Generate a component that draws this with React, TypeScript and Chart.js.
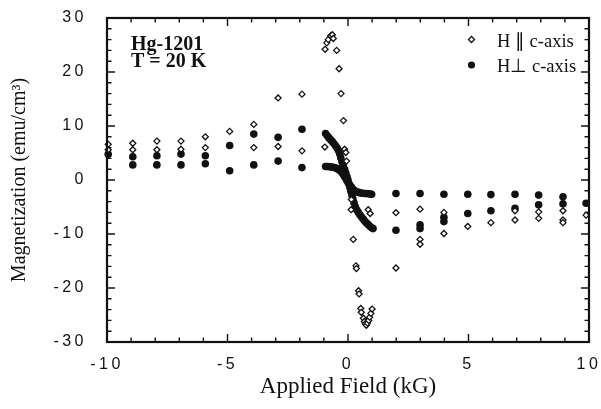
import React, { useEffect, useRef } from 'react';
import { Chart, registerables } from 'chart.js';

Chart.register(...registerables);

// ---- axis ticks ----
const xMajorTicks = [-10, -5, 0, 5, 10];
const yMajorTicks = [-30, -20, -10, 0, 10, 20, 30];
const xMinorTicks = [-9, -8, -7, -6, -4, -3, -2, -1, 1, 2, 3, 4, 6, 7, 8, 9];
const yMinorTicks = [-28, -26, -24, -22, -18, -16, -14, -12, -8, -6, -4, -2, 2, 4, 6, 8, 12, 14, 16, 18, 22, 24, 26, 28];

// ---- texts ----
const xTitle = 'Applied Field (kG)';
const yTitle = 'Magnetization (emu/cm³)';
const seriesNames = ['H ∥ c-axis', 'H⊥ c-axis'];
const sampleNotes = ['Hg-1201', 'T = 20 K'];

// ---- H || c-axis (open diamonds): [field kG, magnetization emu/cm3] ----
const parallelOuter: [number, number][] = [
  [-9.95, 6.6], [-9.95, 5.6],
  [-8.93, 6.8], [-8.93, 5.6],
  [-7.93, 7.2], [-7.93, 5.6],
  [-6.93, 7.2], [-6.93, 5.7],
  [-5.92, 8.0], [-5.92, 6.0],
  [-4.91, 9.0],
  [-3.91, 10.3], [-3.91, 6.0],
  [-2.9, 15.2], [-2.9, 6.2],
  [-1.91, 15.9], [-1.91, 5.4],
  [1.99, -6.05], [1.99, -16.3],
  [2.99, -5.4], [2.99, -11.0], [2.99, -11.9],
  [3.98, -6.0], [3.98, -9.9],
  [4.97, -8.6],
  [5.93, -7.9],
  [6.93, -5.7], [6.93, -7.4],
  [7.91, -5.9], [7.91, -7.1],
  [8.92, -5.7], [8.92, -7.4], [8.92, -7.9],
  [9.88, -6.5],
];
const parallelLoop: [number, number][] = [
  [-0.95, 24.2], [-0.88, 25.4], [-0.82, 26.0], [-0.72, 26.7], [-0.65, 26.9], [-0.61, 26.2],
  [-0.47, 24.0], [-0.37, 20.6], [-0.29, 16.0], [-0.19, 11.0],
  [-0.96, 6.1], [-0.14, 5.7], [-0.09, 5.1], [-0.06, 3.5],
  [0.14, -3.6], [0.13, -5.5], [0.84, -5.5], [0.92, -6.2],
  [0.22, -11.0], [0.33, -15.9], [0.35, -16.4], [0.44, -20.5], [0.46, -21.1],
  [0.53, -23.8], [0.55, -24.5], [0.64, -25.6], [0.68, -26.2], [0.72, -26.6],
  [0.76, -26.9], [0.81, -26.5], [0.86, -26.0], [0.9, -25.4], [0.95, -24.7], [1.0, -23.9],
];

// ---- H ⊥ c-axis (filled circles) ----
const perpOuter: [number, number][] = [
  [-9.95, 4.75],
  [-8.93, 4.3], [-8.93, 2.8],
  [-7.93, 4.5], [-7.93, 2.8],
  [-6.93, 4.8], [-6.93, 2.8],
  [-5.92, 4.5], [-5.92, 3.0],
  [-4.91, 6.4], [-4.91, 1.7],
  [-3.91, 8.5], [-3.91, 2.8],
  [-2.9, 7.9], [-2.9, 3.5],
  [-1.91, 9.4], [-1.91, 2.3],
  [1.99, -2.5], [1.99, -9.3],
  [2.99, -2.5], [2.99, -8.3], [2.99, -9.0],
  [3.98, -2.65], [3.98, -6.9], [3.98, -7.7],
  [4.97, -2.65], [4.97, -6.2],
  [5.93, -2.7], [5.93, -5.7],
  [6.93, -2.65], [6.93, -5.25],
  [7.91, -2.8], [7.91, -4.6],
  [8.92, -3.1], [8.92, -4.4],
  [9.88, -4.3],
];
const perpSteepBranch: [number, number][] = [
  [-0.93, 8.6], [-0.86, 8.2], [-0.79, 7.8], [-0.72, 7.45], [-0.65, 7.1], [-0.58, 6.7],
  [-0.51, 6.3], [-0.45, 5.9], [-0.39, 5.4], [-0.34, 4.8], [-0.3, 4.1], [-0.25, 3.4],
  [-0.2, 2.7], [-0.14, 2.0], [-0.09, 1.3], [-0.04, 0.6], [0.0, 0.0], [0.04, -0.7],
  [0.08, -1.4], [0.12, -2.1], [0.16, -2.8], [0.2, -3.5], [0.25, -4.2], [0.3, -4.9],
  [0.36, -5.5], [0.43, -6.0], [0.5, -6.5], [0.57, -6.9], [0.64, -7.3], [0.71, -7.7],
  [0.78, -8.0], [0.85, -8.3], [0.92, -8.6], [0.99, -8.85], [1.04, -9.0],
];
const perpFlatBranch: [number, number][] = [
  [-0.93, 2.5], [-0.85, 2.5], [-0.77, 2.45], [-0.69, 2.4], [-0.61, 2.35], [-0.53, 2.25],
  [-0.45, 2.1], [-0.37, 1.9], [-0.3, 1.6], [-0.23, 1.25], [-0.17, 0.85], [-0.11, 0.4],
  [-0.05, -0.1], [0.01, -0.5], [0.07, -0.9], [0.14, -1.3], [0.21, -1.7], [0.28, -2.0],
  [0.36, -2.2], [0.44, -2.3], [0.52, -2.4], [0.6, -2.45], [0.68, -2.5], [0.76, -2.5],
  [0.84, -2.55], [0.92, -2.6], [0.98, -2.65],
];

const INK = '#111';
const SERIF = "'Liberation Serif', 'Times New Roman', serif";
const SANS = "'Liberation Sans', Arial, sans-serif";

const toXY = (pts: [number, number][]) => pts.map(([x, y]) => ({ x, y }));

function drawDiamond(ctx: CanvasRenderingContext2D, x: number, y: number, r: number) {
  ctx.beginPath();
  ctx.moveTo(x - r, y);
  ctx.lineTo(x, y - r);
  ctx.lineTo(x + r, y);
  ctx.lineTo(x, y + r);
  ctx.closePath();
  ctx.fillStyle = '#fff';
  ctx.fill();
  ctx.lineWidth = 1.3;
  ctx.strokeStyle = INK;
  ctx.stroke();
}

const framePlugin = {
  id: 'frameAndNotes',
  beforeDraw(chart: any) {
    (chart.ctx as any).letterSpacing = '0px';
  },
  beforeDatasetsDraw(chart: any) {
    (chart.ctx as any).letterSpacing = '3.5px';
  },
  afterDraw(chart: any) {
    const ctx = chart.ctx;
    const a = chart.chartArea;
    const xs = chart.scales.x;
    const ys = chart.scales.y;
    (ctx as any).letterSpacing = '0px';
    ctx.save();
    // frame + inward ticks on all four sides
    ctx.strokeStyle = INK;
    ctx.lineWidth = 1.4;
    ctx.beginPath();
    const vTick = (v: number, len: number) => {
      const px = xs.getPixelForValue(v);
      ctx.moveTo(px, a.bottom);
      ctx.lineTo(px, a.bottom - len);
      ctx.moveTo(px, a.top);
      ctx.lineTo(px, a.top + len);
    };
    const hTick = (v: number, len: number) => {
      const py = ys.getPixelForValue(v);
      ctx.moveTo(a.left, py);
      ctx.lineTo(a.left + len, py);
      ctx.moveTo(a.right, py);
      ctx.lineTo(a.right - len, py);
    };
    xMajorTicks.forEach((v) => vTick(v, 8));
    xMinorTicks.forEach((v) => vTick(v, 4.5));
    yMajorTicks.forEach((v) => hTick(v, 8));
    yMinorTicks.forEach((v) => hTick(v, 4.5));
    ctx.stroke();
    ctx.lineWidth = 2.2;
    ctx.strokeRect(a.left, a.top, a.right - a.left, a.bottom - a.top);

    ctx.fillStyle = INK;
    ctx.textBaseline = 'alphabetic';
    ctx.textAlign = 'left';
    // sample notes
    ctx.font = `bold 20px ${SERIF}`;
    ctx.fillText(sampleNotes[0], a.left + 24, a.top + 32);
    ctx.fillText(sampleNotes[1], a.left + 24, a.top + 49);
    // legend
    const mx = a.right - 117.5;
    drawDiamond(ctx, mx, a.top + 21.5, 3);
    ctx.beginPath();
    ctx.arc(mx, a.top + 47, 3.6, 0, Math.PI * 2);
    ctx.fillStyle = INK;
    ctx.fill();
    ctx.font = `18.5px ${SERIF}`;
    ctx.fillText(seriesNames[0], a.right - 92, a.top + 28.5);
    ctx.fillText(seriesNames[1], a.right - 92, a.top + 53.5);
    ctx.restore();
  },
};

export default function App() {
  const ref = useRef<HTMLCanvasElement | null>(null);
  useEffect(() => {
    if (!ref.current) return;
    const chart = new Chart(ref.current, {
      type: 'scatter',
      data: {
        datasets: [
          {
            label: seriesNames[0],
            data: toXY([...parallelOuter, ...parallelLoop]),
            pointStyle: 'rectRot',
            pointRadius: 3,
            borderWidth: 1.3,
            borderColor: INK,
            backgroundColor: '#fff',
            clip: false as any,
          },
          {
            label: seriesNames[1],
            data: toXY([...perpOuter, ...perpSteepBranch, ...perpFlatBranch]),
            pointStyle: 'circle',
            pointRadius: 3.8,
            borderWidth: 0,
            borderColor: INK,
            backgroundColor: INK,
            clip: false as any,
          },
        ],
      },
      options: {
        responsive: false,
        animation: false,
        events: [],
        layout: { padding: { top: 18, right: 12, left: 0, bottom: 0 } },
        plugins: { legend: { display: false }, tooltip: { enabled: false } },
        scales: {
          x: {
            type: 'linear',
            min: -10,
            max: 10,
            grid: { display: false },
            border: { display: false },
            afterBuildTicks: (s: any) => {
              s.ticks = xMajorTicks.map((v) => ({ value: v }));
            },
            afterFit: (s: any) => {
              s.height = 67;
              s.paddingLeft = 0;
              s.paddingRight = 0;
            },
            ticks: {
              z: 1,
              color: INK,
              padding: 5,
              maxRotation: 0,
              font: { family: SANS, size: 16 },
              callback: (v: any) => String(v),
            },
            title: {
              display: true,
              text: xTitle,
              color: INK,
              font: { family: SERIF, size: 23 },
              padding: { top: 0, bottom: 8 },
            },
          },
          y: {
            type: 'linear',
            min: -30,
            max: 30,
            grid: { display: false },
            border: { display: false },
            afterBuildTicks: (s: any) => {
              s.ticks = yMajorTicks.map((v) => ({ value: v }));
            },
            afterFit: (s: any) => {
              s.width = 107;
              s.paddingTop = 0;
              s.paddingBottom = 0;
            },
            ticks: {
              z: 1,
              color: INK,
              padding: 12,
              font: { family: SANS, size: 16 },
              callback: (v: any) => String(v),
            },
            title: {
              display: true,
              text: yTitle,
              color: INK,
              font: { family: SERIF, size: 20 },
              padding: { top: 8, bottom: 0 },
            },
          },
        },
      },
      plugins: [framePlugin as any],
    });
    return () => chart.destroy();
  }, []);
  return (
    <canvas
      ref={ref}
      width={601}
      height={409}
      style={{ position: 'fixed', left: 0, top: 0, display: 'block', background: '#fff' }}
    />
  );
}
